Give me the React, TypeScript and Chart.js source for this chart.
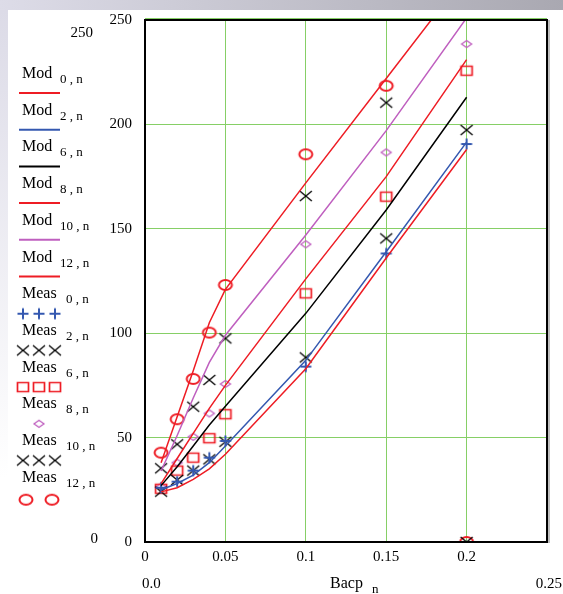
import React, { useEffect, useRef } from 'react';
import { Chart, registerables } from 'chart.js';

Chart.register(...registerables);

// ---------- data ----------
const xValues = [0.01, 0.02, 0.03, 0.04, 0.05, 0.1, 0.15, 0.2];

const mod0 = [24, 26, 30, 35, 42, 83, 136, 188];
const mod2 = [25, 28, 32, 38, 46, 87, 139, 191.5];
const mod6 = [27, 36, 46, 56, 65, 109.5, 159, 213];
const mod8 = [28, 40, 52, 64, 75, 126, 175, 231];
const mod10 = [34, 51, 69, 86, 99, 147, 197, 251];
const mod12 = [38, 60, 82, 105, 121, 172, 222, 272];

const meas0 = [26, 28.9, 34.2, 40.4, 48.4, 84, 138.2, 190.6];
const meas2 = [24.1, 29.7, 34.2, 39.6, 48, 88.4, 145.4, 197.3];
const meas6 = [25.5, 34.2, 40.4, 49.7, 61.2, 119.1, 165.4, 225.7];
const meas8 = [26.5, 38, 50.4, 61.6, 75.7, 142.6, 186.6, 238.5];
const meas10 = [35.3, 46.8, 64.8, 77.6, 97.5, 165.7, 210.4, 0];
const meas12 = [42.8, 58.8, 78.1, 100.3, 123.1, 185.7, 218.5, 0];

const modLabels = ['0 , n', '2 , n', '6 , n', '8 , n', '10 , n', '12 , n'];
const measLabels = ['0 , n', '2 , n', '6 , n', '8 , n', '10 , n', '12 , n'];

const xMin = 0;
const xMax = 0.25;
const xStep = 0.05;
const yMin = 0;
const yMax = 250;
const yStep = 50;
const xTitle = 'Bacp';
const xTitleSub = 'n';

// ---------- styles ----------
const RED = '#ee1c24';
const BLUE = '#3458b0';
const BLACK = '#000000';
const MAGENTA = '#bf5fbf';
const GREEN = '#86cf66';
const FONT = '"Liberation Serif", "Times New Roman", serif';

type MarkerKind = 'plus' | 'x' | 'square' | 'diamond' | 'ellipse';

function makeMarker(kind: MarkerKind, color: string): HTMLCanvasElement {
  const c = document.createElement('canvas');
  c.width = 18;
  c.height = 16;
  const g = c.getContext('2d')!;
  const cx = 9;
  const cy = 8;
  g.strokeStyle = color;
  g.beginPath();
  if (kind === 'plus') {
    g.lineWidth = 2;
    g.moveTo(cx - 5.5, cy);
    g.lineTo(cx + 5.5, cy);
    g.moveTo(cx, cy - 5.5);
    g.lineTo(cx, cy + 5.5);
  } else if (kind === 'x') {
    g.lineWidth = 1.3;
    g.moveTo(cx - 6, cy - 5);
    g.lineTo(cx + 6, cy + 5);
    g.moveTo(cx + 6, cy - 5);
    g.lineTo(cx - 6, cy + 5);
  } else if (kind === 'square') {
    g.lineWidth = 1.7;
    g.rect(cx - 5.5, cy - 4.5, 11, 9);
  } else if (kind === 'diamond') {
    g.lineWidth = 1.3;
    g.moveTo(cx - 5, cy);
    g.lineTo(cx, cy - 3.5);
    g.lineTo(cx + 5, cy);
    g.lineTo(cx, cy + 3.5);
    g.closePath();
  } else {
    g.lineWidth = 2;
    g.ellipse(cx, cy, 6.5, 5, 0, 0, Math.PI * 2);
  }
  g.stroke();
  return c;
}

const toPts = (ys: number[]) => xValues.map((x, i) => ({ x, y: ys[i] }));

export default function App() {
  const ref = useRef<HTMLCanvasElement>(null);

  useEffect(() => {
    const canvas = ref.current!;
    const mk = {
      plus: makeMarker('plus', BLUE),
      x: makeMarker('x', BLACK),
      square: makeMarker('square', RED),
      diamond: makeMarker('diamond', MAGENTA),
      ellipse: makeMarker('ellipse', RED),
    };

    const lineDs = (label: string, ys: number[], color: string) => ({
      label,
      data: toPts(ys),
      showLine: true,
      borderColor: color,
      backgroundColor: color,
      borderWidth: 1.5,
      pointRadius: 0,
      pointHoverRadius: 0,
      tension: 0,
      fill: false,
    });
    const measDs = (label: string, ys: number[], img: HTMLCanvasElement) => ({
      label,
      data: toPts(ys),
      showLine: false,
      pointStyle: img,
      pointRadius: 5,
      pointHoverRadius: 5,
      borderWidth: 0,
      clip: 0,
    });

    const legendItems: { name: string; sub: string; line?: string; marker?: HTMLCanvasElement; mx?: number[] }[] = [
      { name: 'Mod', sub: modLabels[0], line: RED },
      { name: 'Mod', sub: modLabels[1], line: BLUE },
      { name: 'Mod', sub: modLabels[2], line: BLACK },
      { name: 'Mod', sub: modLabels[3], line: RED },
      { name: 'Mod', sub: modLabels[4], line: MAGENTA },
      { name: 'Mod', sub: modLabels[5], line: RED },
      { name: 'Meas', sub: measLabels[0], marker: mk.plus, mx: [23, 39, 55] },
      { name: 'Meas', sub: measLabels[1], marker: mk.x, mx: [23, 39, 55] },
      { name: 'Meas', sub: measLabels[2], marker: mk.square, mx: [23, 39, 55] },
      { name: 'Meas', sub: measLabels[3], marker: mk.diamond, mx: [39] },
      { name: 'Meas', sub: measLabels[4], marker: mk.x, mx: [23, 39, 55] },
      { name: 'Meas', sub: measLabels[5], marker: mk.ellipse, mx: [26, 52] },
    ];

    const decor = {
      id: 'decor',
      beforeDraw(chart: any) {
        const { ctx, width, height } = chart;
        ctx.save();
        ctx.fillStyle = '#ffffff';
        ctx.fillRect(0, 0, width, height);
        const gt = ctx.createLinearGradient(0, 0, width, 0);
        gt.addColorStop(0, '#dddce8');
        gt.addColorStop(1, '#a9a8b1');
        ctx.fillStyle = gt;
        ctx.fillRect(0, 0, width, 10);
        const gl = ctx.createLinearGradient(0, 10, 0, height);
        gl.addColorStop(0, '#dcdbe7');
        gl.addColorStop(0.8, '#ffffff');
        ctx.fillStyle = gl;
        ctx.fillRect(0, 10, 8, height - 10);
        ctx.restore();
      },
      afterDatasetsDraw(chart: any) {
        const { ctx, chartArea: a } = chart;
        ctx.save();
        ctx.strokeStyle = GREEN;
        ctx.lineWidth = 1;
        ctx.beginPath();
        ctx.moveTo(a.left, a.top - 1.5);
        ctx.lineTo(a.right, a.top - 1.5);
        ctx.stroke();
        ctx.strokeStyle = '#a8a8a8';
        ctx.lineWidth = 1.5;
        ctx.beginPath();
        ctx.moveTo(a.right + 2, a.top);
        ctx.lineTo(a.right + 2, a.bottom + 1);
        ctx.stroke();
        ctx.strokeStyle = '#000';
        ctx.lineWidth = 2;
        ctx.strokeRect(a.left, a.top, a.right - a.left, a.bottom - a.top);
        ctx.restore();
      },
      afterDraw(chart: any) {
        const { ctx, chartArea: a } = chart;
        ctx.save();
        ctx.fillStyle = '#000';
        ctx.textBaseline = 'alphabetic';
        ctx.textAlign = 'left';
        legendItems.forEach((it, i) => {
          const base = 78 + 36.7 * i;
          ctx.font = `16px ${FONT}`;
          ctx.fillStyle = '#000';
          ctx.fillText(it.name, 22, base);
          ctx.font = `13px ${FONT}`;
          ctx.fillText(it.sub, it.name === 'Mod' ? 60 : 66, base + 5);
          if (it.line) {
            ctx.strokeStyle = it.line;
            ctx.lineWidth = 2;
            ctx.beginPath();
            ctx.moveTo(19, base + 15);
            ctx.lineTo(60, base + 15);
            ctx.stroke();
          } else if (it.marker && it.mx) {
            const m = it.marker;
            const yy = base + (m === mk.ellipse ? 18 : 15.5);
            it.mx.forEach((mx) => ctx.drawImage(m, mx - m.width / 2, yy - m.height / 2));
          }
        });
        // axis limit labels
        ctx.font = `15px ${FONT}`;
        ctx.fillStyle = '#000';
        ctx.textAlign = 'right';
        ctx.fillText(String(yMax), 93, 37);
        ctx.fillText(String(yMin), 98, 543);
        ctx.textAlign = 'left';
        ctx.fillText(xMin.toFixed(1), 142, 588);
        ctx.textAlign = 'right';
        ctx.fillText(String(xMax), 562, 588);
        ctx.textAlign = 'left';
        ctx.font = `16px ${FONT}`;
        const cx = (a.left + a.right) / 2 - 16;
        ctx.fillText(xTitle, cx, 588);
        const w = ctx.measureText(xTitle).width;
        ctx.font = `13px ${FONT}`;
        ctx.fillText(xTitleSub, cx + w + 9, 593);
        ctx.restore();
      },
    };

    const chart = new Chart(canvas, {
      type: 'scatter',
      data: {
        datasets: [
          lineDs('Mod 0,n', mod0, RED),
          lineDs('Mod 2,n', mod2, BLUE),
          lineDs('Mod 6,n', mod6, BLACK),
          lineDs('Mod 8,n', mod8, RED),
          lineDs('Mod 10,n', mod10, MAGENTA),
          lineDs('Mod 12,n', mod12, RED),
          measDs('Meas 0,n', meas0, mk.plus),
          measDs('Meas 2,n', meas2, mk.x),
          measDs('Meas 6,n', meas6, mk.square),
          measDs('Meas 8,n', meas8, mk.diamond),
          measDs('Meas 10,n', meas10, mk.x),
          measDs('Meas 12,n', meas12, mk.ellipse),
        ] as any,
      },
      options: {
        responsive: false,
        animation: false,
        devicePixelRatio: 1,
        events: [],
        layout: { padding: { left: 0, top: 20, right: 16, bottom: 0 } },
        plugins: { legend: { display: false }, tooltip: { enabled: false } },
        scales: {
          x: {
            type: 'linear',
            min: xMin,
            max: xMax,
            ticks: {
              stepSize: xStep,
              padding: 6,
              maxRotation: 0,
              autoSkip: false,
              color: '#000',
              font: { family: FONT, size: 15 },
              callback: (v: any) => (Math.abs(v - xMax) < 1e-9 ? '' : String(parseFloat(Number(v).toFixed(2)))),
            },
            grid: { color: GREEN, lineWidth: 1, drawTicks: false },
            border: { display: false },
            afterFit: (s: any) => {
              s.height = 52;
              s.paddingLeft = 0;
              s.paddingRight = 0;
            },
          },
          y: {
            type: 'linear',
            min: yMin,
            max: yMax,
            ticks: {
              stepSize: yStep,
              padding: 13,
              color: '#000',
              font: { family: FONT, size: 15 },
            },
            grid: { color: GREEN, lineWidth: 1, drawTicks: false },
            border: { display: false },
            afterFit: (s: any) => {
              s.width = 145;
              s.paddingTop = 0;
              s.paddingBottom = 0;
            },
          },
        },
      } as any,
      plugins: [decor],
    });
    return () => chart.destroy();
  }, []);

  return (
    <div style={{ position: 'absolute', left: 0, top: 0, width: 563, height: 594 }}>
      <canvas ref={ref} width={563} height={594} style={{ display: 'block', width: 563, height: 594 }} />
    </div>
  );
}
